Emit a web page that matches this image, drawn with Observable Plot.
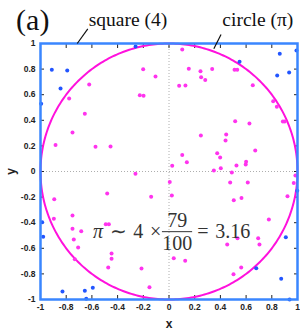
<!DOCTYPE html>
<html><head><meta charset="utf-8">
<script src="https://cdn.jsdelivr.net/npm/d3@7"></script>
<script src="https://cdn.jsdelivr.net/npm/@observablehq/plot@0.6"></script>
<style>body{margin:0;background:#fff}svg{display:block}</style>
</head><body><div id="chart"></div>
<script>
// points inside the unit circle (79)
const insideX = [-0.777,-0.621,-0.655,-0.751,-0.883,-0.572,-0.455,-0.201,-0.227,-0.198,-0.105,-0.261,
  0.103,0.154,0.245,0.336,0.250,0.282,0.079,0.128,0.510,0.531,0.652,0.811,0.839,0.886,0.901,0.515,0.626,0.248,0.445,0.440,0.671,0.103,0.375,0.398,0.139,0.025,0.600,0.597,0.525,0.403,0.349,0.489,
  0.984,0.971,0.006,0.476,0.613,0.022,0.504,0.564,0.922,0.777,0.694,0.704,0.533,0.453,0.037,0.126,0.562,0.502,
  -0.893,-0.139,-0.481,-0.896,-0.751,-0.751,-0.683,-0.741,-0.707,-0.492,-0.468,-0.447,-0.447,-0.733,-0.473,-0.214,-0.152];
const insideY = [0.570,0.680,0.451,0.305,0.208,0.193,0.195,0.799,0.596,0.591,0.742,-0.018,
  0.953,0.802,0.784,0.800,0.737,0.714,0.669,0.672,0.794,0.794,0.674,0.549,0.505,0.390,0.390,0.393,0.375,0.281,0.289,0.242,0.164,0.128,0.143,0.109,0.073,0.044,0.076,0.055,0.047,0.026,0.008,-0.008,
  -0.031,-0.089,-0.083,-0.086,-0.086,-0.188,-0.224,-0.208,-0.193,-0.375,-0.521,-0.570,-0.521,-0.570,-0.677,-0.698,-0.750,-0.802,
  -0.216,-0.198,-0.172,-0.370,-0.344,-0.448,-0.466,-0.531,-0.594,-0.412,-0.412,-0.641,-0.682,-0.685,-0.750,-0.758,-0.904];
// points outside the circle (21)
const outsideX = [-0.260,-0.912,-0.792,-0.844,-0.995, 0.549,0.862,0.992,0.842,0.935, 0.998,0.679,0.909,0.873,0.938, -0.987,-0.979,-0.829,-0.655,-0.593,-0.644];
const outsideY = [0.977,0.794,0.789,0.648,0.529, 0.857,0.919,0.945,0.750,0.773, -0.151,-0.755,-0.513,-0.838,-1.000, -0.396,-0.510,-0.938,-0.932,-0.909,-0.995];

const tickValues = [-1,-0.8,-0.6,-0.4,-0.2,0,0.2,0.4,0.6,0.8,1];
const tickLabels = ["-1","-0.8","-0.6","-0.4","-0.2","0","0.2","0.4","0.6","0.8","1"];
const panelLabel = "(a)";
const squareLabel = "square (4)";
const circleLabel = "circle (π)";
const hits = 79, total = 100, estimate = "3.16";

const inside = insideX.map((x, i) => ({x, y: insideY[i]}));
const outside = outsideX.map((x, i) => ({x, y: outsideY[i]}));
const circle = d3.range(0, 361).map(a => ({x: Math.cos(a * Math.PI / 180), y: Math.sin(a * Math.PI / 180)}));
const fmt = d => tickLabels[tickValues.indexOf(d)];

// annotation anchors in data units
const sqLeader = [{x1: -0.714, y1: 1.0, x2: -0.632, y2: 1.115}];
const ciLeader = [{x1: 0.349, y1: 0.959, x2: 0.405, y2: 1.07}];

const MAG = "#ff33ee", CIRC = "#ff11dd", BLUE = "#2255ff", FRAME = "#3a86ff";
const tickFont = {fontSize: 8.5, fontWeight: "bold", fill: "#222"};
const serif = "Liberation Serif, Times New Roman, serif";
const sp = "\u2004";

const chart = Plot.plot({
  width: 300, height: 330,
  marginLeft: 40, marginRight: 3, marginTop: 43, marginBottom: 31,
  style: {fontFamily: "Liberation Sans, Arial, sans-serif", overflow: "visible", background: "#fff"},
  x: {domain: [-1, 1]},
  y: {domain: [-1, 1]},
  marks: [
    Plot.ruleX([0], {stroke: "#999", strokeDasharray: "1,2", strokeWidth: 0.8}),
    Plot.ruleY([0], {stroke: "#999", strokeDasharray: "1,2", strokeWidth: 0.8}),
    Plot.axisX({anchor: "bottom", ticks: tickValues, tickSize: 0, tickPadding: 4, tickFormat: fmt, label: null, ...tickFont}),
    Plot.axisY({anchor: "left", ticks: tickValues, tickSize: 0, tickPadding: 5, tickFormat: fmt, label: null, ...tickFont}),
    Plot.axisX({anchor: "bottom", ticks: [], label: "x", labelAnchor: "center", labelArrow: "none", labelOffset: 28, fontSize: 12, fontWeight: "bold", fill: "#222"}),
    Plot.axisY({anchor: "left", ticks: [], label: "y", labelAnchor: "center", labelArrow: "none", labelOffset: 34, fontSize: 12, fontWeight: "bold", fill: "#222"}),
    Plot.axisX({anchor: "bottom", ticks: tickValues, tickSize: -4, tickFormat: () => "", label: null, stroke: "#222"}),
    Plot.axisX({anchor: "top", ticks: tickValues, tickSize: -4, tickFormat: () => "", label: null, stroke: "#222"}),
    Plot.axisY({anchor: "left", ticks: tickValues, tickSize: -4, tickFormat: () => "", label: null, stroke: "#222"}),
    Plot.axisY({anchor: "right", ticks: tickValues, tickSize: -4, tickFormat: () => "", label: null, stroke: "#222"}),
    Plot.line(circle, {x: "x", y: "y", stroke: CIRC, strokeWidth: 2}),
    Plot.dot(inside, {x: "x", y: "y", r: 2, fill: MAG}),
    Plot.dot(outside, {x: "x", y: "y", r: 2, fill: BLUE}),
    Plot.frame({stroke: FRAME, strokeWidth: 2.5}),
    // annotations
    Plot.link(sqLeader, {x1: "x1", y1: "y1", x2: "x2", y2: "y2", stroke: "#111", strokeWidth: 1.2, clip: false}),
    Plot.link(ciLeader, {x1: "x1", y1: "y1", x2: "x2", y2: "y2", stroke: "#111", strokeWidth: 1.2, clip: false}),
    Plot.text([squareLabel], {x: -0.625, y: 1.135, text: d => d, textAnchor: "start", lineAnchor: "bottom", fontFamily: serif, fontSize: 19.5, fill: "#111"}),
    Plot.text([circleLabel], {x: 0.415, y: 1.135, text: d => d, textAnchor: "start", lineAnchor: "bottom", fontFamily: serif, fontSize: 19.5, fill: "#111"}),
    Plot.text([panelLabel], {x: -1.19, y: 1.18, text: d => d, textAnchor: "start", lineAnchor: "middle", fontFamily: serif, fontSize: 30, fill: "#111"}),
    // formula
    Plot.text(["π" + sp + "∼" + sp + "4" + sp + "×"], {x: -0.06, y: -0.47, text: d => d, textAnchor: "end", lineAnchor: "middle", fontFamily: serif, fontSize: 20, fill: "#333"}),
    Plot.text([String(hits)], {x: 0.065, y: -0.385, text: d => d, textAnchor: "middle", lineAnchor: "middle", fontFamily: serif, fontSize: 20, fill: "#333"}),
    Plot.text([String(total)], {x: 0.065, y: -0.565, text: d => d, textAnchor: "middle", lineAnchor: "middle", fontFamily: serif, fontSize: 20, fill: "#333"}),
    Plot.link([{x1: -0.055, x2: 0.18, y: -0.47}], {x1: "x1", x2: "x2", y1: "y", y2: "y", stroke: "#333", strokeWidth: 1}),
    Plot.text(["=" + sp + estimate], {x: 0.22, y: -0.47, text: d => d, textAnchor: "start", lineAnchor: "middle", fontFamily: serif, fontSize: 20, fill: "#333"})
  ]
});
// italic pi in the formula
chart.querySelectorAll("text").forEach(t => {
  if (t.textContent.startsWith("π" + sp)) {
    const rest = t.textContent.slice(1);
    t.textContent = "";
    const a = document.createElementNS("http://www.w3.org/2000/svg", "tspan");
    a.setAttribute("font-style", "italic"); a.textContent = "π";
    const b = document.createElementNS("http://www.w3.org/2000/svg", "tspan");
    b.textContent = rest;
    t.append(a, b);
  }
});
document.getElementById("chart").append(chart);
</script>
</body></html>
